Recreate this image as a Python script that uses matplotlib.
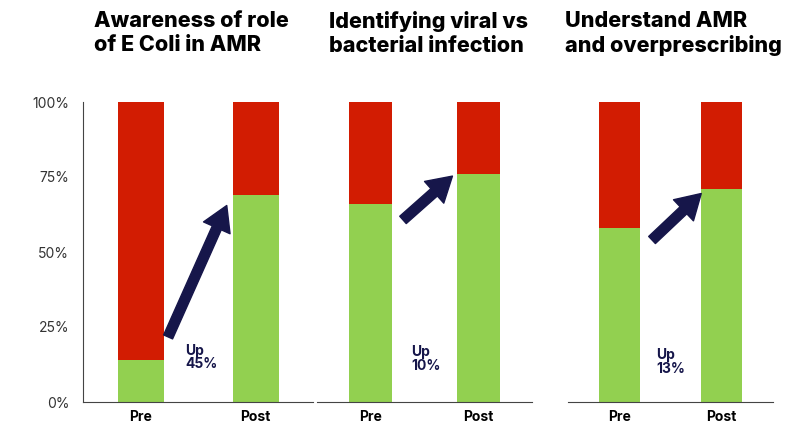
import matplotlib.pyplot as plt

plt.rcParams['font.family'] = ['Inter', 'Liberation Sans', 'DejaVu Sans']

# survey results, % answering correctly (green) vs not (red)
titles = ["Awareness of role\nof E Coli in AMR",
          "Identifying viral vs\nbacterial infection",
          "Understand AMR\nand overprescribing"]
stages = ["Pre", "Post"]
pre_pct = [14, 66, 58]
post_pct = [69, 76, 71]
up_labels = ["Up\n45%", "Up\n10%", "Up\n13%"]
yticks = [0, 25, 50, 75, 100]

GREEN = '#92d050'
RED = '#d21c02'
NAVY = '#16164a'

W, H = 797, 426
fig = plt.figure(figsize=(W / 100, H / 100), dpi=100)

# panel boxes in pixels: left, width
panels = [(83, 230), (317, 215), (568, 205)]
title_x = [94, 329, 565]
# arrow tail / head (x, y) and label spot per panel, in data units
arrows = [((0.24, 21.7), (0.75, 65.5)),
          ((0.30, 60.7), (0.76, 75.3)),
          ((0.32, 54.0), (0.80, 69.5))]
label_pos = [(0.39, 19.5), (0.38, 19.0), (0.36, 18.0)]

for i, (left, width) in enumerate(panels):
    ax = fig.add_axes([left / W, (H - 402) / H, width / W, 300 / H])
    good = [pre_pct[i], post_pct[i]]
    bad = [100 - v for v in good]
    ax.bar(range(2), good, width=0.4, color=GREEN)
    ax.bar(range(2), bad, width=0.4, bottom=good, color=RED)
    ax.set_xlim(-0.5, 1.5)
    ax.set_ylim(0, 100)
    ax.set_xticks(range(2))
    ax.set_xticklabels(stages, fontsize=10, fontweight='bold')
    ax.tick_params(length=0, pad=6)
    for s in ['top', 'right']:
        ax.spines[s].set_visible(False)
    ax.spines['bottom'].set_color('#444444')
    if i == 0:
        ax.spines['left'].set_color('#444444')
        ax.set_yticks(yticks)
        ax.set_yticklabels([f"{t}%" for t in yticks], fontsize=10, color='#333333')
        ax.tick_params(axis='y', pad=10)
    else:
        ax.spines['left'].set_visible(False)
        ax.set_yticks([])

    tail, head = arrows[i]
    ax.annotate('', xy=head, xytext=tail,
                arrowprops=dict(arrowstyle='simple,head_length=0.8,head_width=0.95,tail_width=0.32',
                                mutation_scale=22, color=NAVY, shrinkA=0, shrinkB=0))
    ax.text(*label_pos[i], up_labels[i], ha='left', va='top', fontsize=10,
            fontweight='bold', color=NAVY, linespacing=1.0)

    fig.text(title_x[i] / W, 1 - 11 / H, titles[i], ha='left', va='top',
             fontsize=15.5, fontweight='heavy', color='black', linespacing=1.25)

fig.savefig('out.png', dpi=100, facecolor='white')
